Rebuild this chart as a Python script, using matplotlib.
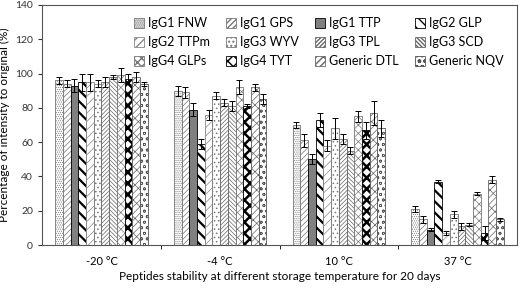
import matplotlib
matplotlib.use("Agg")
import matplotlib.pyplot as plt
import numpy as np

plt.rcParams['font.family'] = ['Lato', 'DejaVu Sans']

temps = ["-20 °C", "-4 °C", "10 °C", "37 °C"]
series = ["IgG1 FNW", "IgG1 GPS", "IgG1 TTP", "IgG2 GLP",
          "IgG2 TTPm", "IgG3 WYV", "IgG3 TPL", "IgG3 SCD",
          "IgG4 GLPs", "IgG4 TYT", "Generic DTL", "Generic NQV"]

ig1_fnw = [96, 90, 70, 21]
ig1_gps = [94, 89, 61, 15]
ig1_ttp = [93, 79, 50, 9]
ig2_glp = [95, 59, 73, 37]
ig2_ttpm = [95, 76, 58, 7]
ig3_wyv = [94, 87, 68, 18]
ig3_tpl = [95, 83, 62, 11]
ig3_scd = [98, 81, 55, 12]
ig4_glps = [99, 92, 75, 30]
ig4_tyt = [97, 81, 67, 7]
gen_dtl = [98, 92, 77, 38]
gen_nqv = [94, 85, 68, 15]

err_fnw = [2, 3, 2, 2]
err_gps = [2, 3, 4, 2]
err_ttp = [4, 4, 3, 1]
err_glp = [5, 3, 4, 1]
err_ttpm = [5, 3, 3, 1]
err_wyv = [2, 2, 6, 2]
err_tpl = [3, 2, 3, 2]
err_scd = [1, 3, 2, 1]
err_glps = [4, 4, 3, 1]
err_tyt = [3, 1, 5, 4]
err_dtl = [3, 2, 7, 2]
err_nqv = [1, 3, 5, 1]

values = [ig1_fnw, ig1_gps, ig1_ttp, ig2_glp, ig2_ttpm, ig3_wyv,
          ig3_tpl, ig3_scd, ig4_glps, ig4_tyt, gen_dtl, gen_nqv]
errors = [err_fnw, err_gps, err_ttp, err_glp, err_ttpm, err_wyv,
          err_tpl, err_scd, err_glps, err_tyt, err_dtl, err_nqv]

styles = [
    dict(fc="white", hatch="........", ec="#777777", lw=0.5),
    dict(fc="white", hatch="//////", ec="#777777", lw=0.5),
    dict(fc="#808080", hatch=None, ec="#333333", lw=0.5),
    dict(fc="white", hatch="\\\\\\", ec="black", lw=1.6),
    dict(fc="white", hatch="////", ec="#888888", lw=0.5),
    dict(fc="white", hatch="....", ec="#777777", lw=0.6),
    dict(fc="white", hatch="////////", ec="#666666", lw=0.5),
    dict(fc="white", hatch="\\\\\\\\\\\\\\\\", ec="#666666", lw=0.5),
    dict(fc="white", hatch="xxxx", ec="#777777", lw=0.5),
    dict(fc="white", hatch="xxx", ec="black", lw=1.8),
    dict(fc="white", hatch="///xx", ec="#666666", lw=0.5),
    dict(fc="white", hatch="ooo", ec="#555555", lw=0.5),
]

fig = plt.figure(figsize=(5.2, 2.88), dpi=100)
ax = fig.add_axes([0.081, 0.149, 0.913, 0.834])

x = np.arange(len(temps))
n = len(series)
w = 0.065
handles = []
for i in range(n):
    pos = x - w * (n - 1) / 2 + i * w
    st = styles[i]
    bars = ax.bar(pos, values[i], w, color=st["fc"], edgecolor="black",
                  linewidth=0.6, label=series[i], zorder=2)
    for b in bars:
        if st["hatch"]:
            b.set_hatch(st["hatch"])
            b.set_edgecolor(st["ec"])
        if hasattr(b, "set_hatch_linewidth"):
            b.set_hatch_linewidth(st["lw"])
    handles.append(bars)
    ax.errorbar(pos, values[i], yerr=errors[i], fmt="none", ecolor="black",
                elinewidth=0.7, capsize=2, capthick=0.7, zorder=3)

ax.set_xlim(-0.5, len(temps) - 0.5)
ax.set_ylim(0, 140)
ax.set_yticks(range(0, 141, 20))
ax.set_xticks(x)
ax.set_xticklabels(temps, fontsize=8)
ax.set_xticks(np.arange(0.5, len(temps) - 1, 1), minor=True)
ax.tick_params(axis="x", which="major", length=0, pad=8)
ax.tick_params(axis="x", which="minor", length=3, direction="out")
ax.tick_params(axis="y", labelsize=7.5, length=3, direction="out", colors="#333333")
for s in ax.spines.values():
    s.set_color("#555555")
    s.set_linewidth(0.8)
ax.set_ylabel("Percentage of intensity to original (%)", fontsize=8.5)
ax.set_xlabel("Peptides stability at different storage temperature for 20 days",
              fontsize=8.5, labelpad=3)

ncol, nrow = 4, 3
order = [r * ncol + c for c in range(ncol) for r in range(nrow)]
leg = ax.legend([handles[k] for k in order], [series[k] for k in order],
                ncol=ncol, loc="upper right", bbox_to_anchor=(0.995, 0.995),
                frameon=False, fontsize=9, handlelength=0.8, handleheight=0.8,
                handletextpad=0.3, columnspacing=1.3, labelspacing=0.55)
plt.savefig("out.png", dpi=100)
